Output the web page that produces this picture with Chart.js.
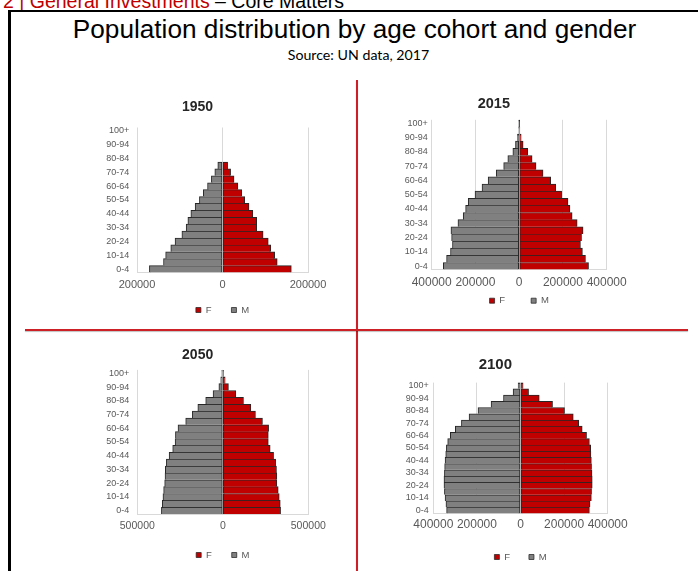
<!DOCTYPE html>
<html>
<head>
<meta charset="utf-8">
<script src="https://cdn.jsdelivr.net/npm/chart.js@4.4.1/dist/chart.umd.min.js"></script>
<style>
  body { margin: 0; width: 698px; height: 571px; position: relative; overflow: hidden; background: #fff;
         font-family: "Liberation Sans", Arial, sans-serif; }
  .abs { position: absolute; }
  #header { left: 3px; top: -8.5px; font-size: 19.5px; line-height: 1; white-space: nowrap; color: #000; }
  #title { left: 354.5px; top: 16px; transform: translateX(-50%); font-size: 26.2px; line-height: 1; white-space: nowrap; color: #000; }
  #source { left: 358.5px; top: 46.5px; transform: translateX(-50%); font-family: Lato, "Open Sans", sans-serif; font-size: 14.2px; line-height: 15px; white-space: nowrap; color: #000; }
  .redline { background: #cc1f26; box-shadow: 0 1px 1px rgba(0,0,0,0.25); }
</style>
</head>
<body>
<div id="header" class="abs"><span style="color:#c00000">2 | General Investments</span> – Core Matters</div>
<div class="abs" style="left:8px;top:10px;width:690px;height:2px;background:#000"></div>
<div class="abs" style="left:8px;top:10px;width:3px;height:561px;background:#000"></div>
<div id="title" class="abs">Population distribution by age cohort and gender</div>
<div id="source" class="abs">Source: UN data, 2017</div>
<div class="abs redline" style="left:355.5px;top:80px;width:2px;height:491px"></div>
<div class="abs redline" style="left:25px;top:329px;width:663px;height:2px"></div>

<div id="c1950" class="abs"><canvas></canvas></div>
<div id="c2015" class="abs"><canvas></canvas></div>
<div id="c2050" class="abs"><canvas></canvas></div>
<div id="c2100" class="abs"><canvas></canvas></div>

<script>
// age cohorts, youngest first
var ageGroups = ['0-4', '5-9', '10-14', '15-19', '20-24', '25-29', '30-34', '35-39', '40-44', '45-49',
  '50-54', '55-59', '60-64', '65-69', '70-74', '75-79', '80-84', '85-89', '90-94', '95-99', '100+'];

var female1950 = [161000, 128000, 122000, 113000, 107000, 95000, 80000, 80000, 71000, 62000,
  52000, 45000, 36000, 27000, 19000, 12000, 0, 0, 0, 0, 0];
var male1950 = [171000, 138000, 133000, 121000, 111000, 95000, 85000, 81000, 74000, 64000,
  54000, 45000, 35000, 26000, 18000, 11000, 0, 0, 0, 0, 0];

var female2015 = [317000, 303000, 289000, 280000, 285000, 292000, 265000, 242000, 232000, 223000,
  194000, 167000, 144000, 109000, 77000, 59000, 39000, 18000, 9000, 3000, 500];
var male2015 = [347000, 332000, 314000, 305000, 309000, 312000, 280000, 256000, 245000, 233000,
  202000, 170000, 142000, 105000, 71000, 52000, 29000, 17000, 8000, 2000, 500];

var female2050 = [338000, 336000, 330000, 324000, 316000, 316000, 314000, 309000, 297000, 277000,
  266000, 266000, 268000, 232000, 191000, 164000, 121000, 76000, 33000, 14000, 4000];
var male2050 = [359000, 354000, 350000, 346000, 340000, 338000, 336000, 330000, 314000, 293000,
  279000, 277000, 262000, 217000, 178000, 146000, 100000, 57000, 23000, 12000, 6000];

var female2100 = [316000, 319000, 325000, 326000, 329000, 329000, 328000, 326000, 325000, 323000,
  322000, 316000, 303000, 283000, 267000, 242000, 202000, 147000, 86000, 37000, 12000];
var male2100 = [339000, 342000, 346000, 349000, 351000, 351000, 349000, 348000, 346000, 343000,
  340000, 334000, 322000, 299000, 271000, 236000, 195000, 135000, 78000, 34000, 11000];

var axisMax = { '1950': 200000, '2015': 400000, '2050': 500000, '2100': 400000 };
var axisStep = { '1950': 200000, '2015': 200000, '2050': 500000, '2100': 200000 };

Chart.defaults.font.family = '"Liberation Sans", Arial, sans-serif';

// where each small chart sits on the page
var layoutInfo = {
  '1950': { plotL: 137, plotR: 308, plotT: 127.5, plotB: 272.5, titleX: 227, titleY: 107.3, titleSize: 14,
            tickY: 285, tickSize: 11, yPad: 7.7, legendY: 310, legendPad: 20 },
  '2015': { plotL: 431.7, plotR: 606.7, plotT: 119.8, plotB: 269.6, titleX: 523, titleY: 104, titleSize: 14.5,
            tickY: 282.7, tickSize: 12, yPad: 4, legendY: 300.7, legendPad: 26 },
  '2050': { plotL: 137.3, plotR: 308.3, plotT: 369.9, plotB: 514.1, titleX: 225.8, titleY: 355, titleSize: 14,
            tickY: 525.7, tickSize: 10.5, yPad: 8, legendY: 555, legendPad: 20 },
  '2100': { plotL: 433.3, plotR: 607.7, plotT: 382.6, plotB: 513.4, titleX: 521.7, titleY: 365, titleSize: 15,
            tickY: 525, tickSize: 12, yPad: 4.6, legendY: 557, legendPad: 19 }
};

function pyramid(year, female, male) {
  var g = layoutInfo[year];
  var max = axisMax[year];
  var legendFont = 9.5;
  var lh = g.titleSize * 1.2;
  var L = Math.floor(g.plotL - 50);
  var yw = g.plotL - L;
  var W = Math.round(2 * (g.titleX - L));
  var padR = L + W - g.plotR;
  var T = Math.floor(g.titleY - lh / 2 - 2);
  var tt = g.titleY - lh / 2 - T;
  var tb = g.plotT - T - tt - lh;
  var xh = Math.max(0, g.legendY - g.plotB - g.legendPad - legendFont / 2);
  var legendH = legendFont + g.legendPad + 10;
  var bottom = g.plotB + xh + legendH;
  var H = Math.ceil(bottom - T);
  var padB = H - (bottom - T);
  // mirrored labels are not clipped to the thin axis box; negative padding pushes them below the axis
  var xPad = -(g.tickY - g.plotB + g.tickSize * 0.6);

  var box = document.getElementById('c' + year);
  box.style.left = L + 'px';
  box.style.top = T + 'px';
  box.style.width = W + 'px';
  box.style.height = H + 'px';

  new Chart(box.querySelector('canvas'), {
    type: 'bar',
    data: {
      labels: ageGroups,
      datasets: [
        { label: 'F', data: female, backgroundColor: '#c00000' },
        { label: 'M', data: male.map(function (v) { return -v; }), backgroundColor: '#808080' }
      ]
    },
    options: {
      indexAxis: 'y',
      responsive: true,
      maintainAspectRatio: false,
      animation: false,
      layout: { padding: { left: 0, top: 0, right: padR, bottom: padB } },
      datasets: {
        bar: {
          barPercentage: 1,
          categoryPercentage: 1,
          borderColor: '#262626',
          borderWidth: { top: 1, right: 1, bottom: 0, left: 1 },
          borderSkipped: false
        }
      },
      scales: {
        x: {
          stacked: true,
          min: -max,
          max: max,
          ticks: {
            stepSize: axisStep[year],
            autoSkip: false,
            maxRotation: 0,
            mirror: true,
            padding: xPad,
            color: '#595959',
            font: { size: g.tickSize },
            callback: function (v) { return String(Math.abs(v)); }
          },
          grid: { color: '#d9d9d9', drawTicks: false },
          border: { color: '#d9d9d9' },
          afterFit: function (s) { s.height = xh; s.paddingLeft = 0; s.paddingRight = 0; }
        },
        y: {
          stacked: true,
          reverse: true,
          grid: { display: false, drawTicks: false },
          border: { display: false },
          ticks: {
            autoSkip: false,
            padding: g.yPad,
            color: '#595959',
            font: { size: 9 },
            callback: function (v, i) { return i % 2 === 0 ? ageGroups[i] : ''; }
          },
          afterFit: function (s) { s.width = yw; s.paddingTop = 0; s.paddingBottom = 0; }
        }
      },
      plugins: {
        title: {
          display: true,
          text: year,
          color: '#262626',
          font: { size: g.titleSize, weight: 'bold' },
          padding: { top: tt, bottom: tb }
        },
        legend: {
          position: 'bottom',
          fullSize: false,
          labels: { boxWidth: 5, boxHeight: 5, padding: g.legendPad, color: '#595959', font: { size: legendFont } }
        },
        tooltip: { enabled: false }
      }
    }
  });
}

pyramid('1950', female1950, male1950);
pyramid('2015', female2015, male2015);
pyramid('2050', female2050, male2050);
pyramid('2100', female2100, male2100);
</script>
</body>
</html>
